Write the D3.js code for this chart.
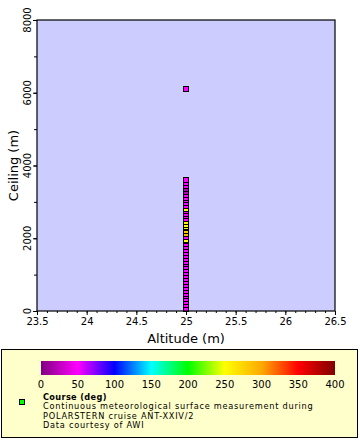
<!DOCTYPE html>
<html><head><meta charset="utf-8">
<script src="https://cdn.jsdelivr.net/npm/d3@7"></script>
<style>body{margin:0;background:#fff}svg{display:block;font-family:"DejaVu Sans",sans-serif}</style>
</head><body>
<script>
// Data
const altitude = [25,25,25,25,25,25,25,25,25,25,25,25,25,25,25,25,25,25,25,25,25,25,25,25,25,25,25,25,25,25,25,25,25,25,25,25,25,25,25,25,25,25,25,25,25,25,25,25];
const ceiling = [6100,3600,3520,3440,3350,3280,3200,3120,3040,2960,2880,2800,2760,2680,2600,2520,2440,2360,2320,2280,2200,2120,2040,1960,1920,1840,1760,1680,1600,1520,1440,1360,1280,1200,1120,1040,960,880,800,720,640,560,480,400,320,240,160,60];
const course = [50,50,50,48,20,22,50,50,50,52,50,250,50,48,50,50,255,250,245,50,280,290,50,250,50,50,48,50,50,52,50,50,48,50,50,52,50,50,50,48,50,50,52,50,50,48,50,50];
const colorStops = [0,50,100,150,200,250,300,350,400];
const colorValues = ["#800080","#ff00ff","#0000ff","#00ffff","#00ff00","#ffff00","#ffaa00","#ff0000","#800000"];
const xTicks = [23.5,24,24.5,25,25.5,26,26.5];
const yTicks = [0,2000,4000,6000,8000];
const legendTicks = [0,50,100,150,200,250,300,350,400];

const W=360,H=440;
const svg=d3.select("body").append("svg").attr("width",W).attr("height",H);
const m={l:37,r:335,t:20,b:311};
const x=d3.scaleLinear().domain([23.5,26.5]).range([m.l,m.r]);
const y=d3.scaleLinear().domain([0,8000]).range([m.b,m.t]);
const color=d3.scaleLinear().domain(colorStops).range(colorValues);

svg.append("rect").attr("x",m.l).attr("y",m.t).attr("width",m.r-m.l).attr("height",m.b-m.t).attr("fill","#ccccff");

// points
const pts = course.map((c,i)=>({a:altitude[i],c:ceiling[i],v:c}));
svg.append("g").selectAll("rect").data(pts.slice().reverse()).join("rect")
  .attr("x",d=>Math.round(x(d.a))-2.5).attr("y",d=>Math.round(y(d.c))-2.5)
  .attr("width",5).attr("height",5).attr("fill",d=>color(d.v)).attr("stroke","#000").attr("stroke-width",1);

// frame
svg.append("rect").attr("x",m.l).attr("y",m.t).attr("width",m.r-m.l).attr("height",m.b-m.t).attr("fill","none").attr("stroke","#000").attr("stroke-width",1.2);

// x axis
const gx=svg.append("g").attr("transform",`translate(0,${m.b})`);
gx.call(d3.axisBottom(x).tickValues(d3.range(235,266,1).map(v=>v/10)).tickSize(2).tickFormat(""));
gx.call(g=>g.select(".domain").remove());
const gx2=svg.append("g").attr("transform",`translate(0,${m.b})`);
gx2.call(d3.axisBottom(x).tickValues(xTicks).tickSize(4).tickPadding(3).tickFormat(d3.format("")));
gx2.select(".domain").remove();
gx2.selectAll("text").attr("font-size",10).attr("font-family","DejaVu Sans");

// y axis
const gy=svg.append("g").attr("transform",`translate(${m.l},0)`);
gy.call(d3.axisLeft(y).tickValues(d3.range(0,8001,1000)).tickSize(3).tickFormat(""));
gy.select(".domain").remove();
const gy2=svg.append("g").attr("transform",`translate(${m.l},0)`);
gy2.call(d3.axisLeft(y).tickValues(yTicks).tickSize(4).tickFormat(""));
gy2.select(".domain").remove();
svg.append("g").selectAll("text").data(yTicks).join("text")
  .attr("transform",d=>`translate(31,${y(d)}) rotate(-90)`)
  .attr("text-anchor","middle").attr("font-size",10).text(d=>d);

svg.append("text").attr("x",186).attr("y",343).attr("text-anchor","middle").attr("font-size",13).text("Altitude (m)");
svg.append("text").attr("transform",`translate(18,${(m.t+m.b)/2}) rotate(-90)`).attr("text-anchor","middle").attr("font-size",13).text("Ceiling (m)");

// legend
svg.append("rect").attr("x",1.5).attr("y",349.5).attr("width",356).attr("height",88).attr("fill","#ffffcc").attr("stroke","#000").attr("stroke-width",1);
const lx=d3.scaleLinear().domain([0,400]).range([41,335]);
const defs=svg.append("defs");
const grad=defs.append("linearGradient").attr("id","cb");
colorStops.forEach((s,i)=>grad.append("stop").attr("offset",(s/400*100)+"%").attr("stop-color",colorValues[i]));
svg.append("rect").attr("x",41).attr("y",361).attr("width",294).attr("height",14).attr("fill","url(#cb)");
svg.append("g").selectAll("text").data(legendTicks).join("text")
  .attr("x",d=>lx(d)).attr("y",388).attr("text-anchor","middle").attr("font-size",10).text(d=>d);
svg.append("rect").attr("x",19.5).attr("y",399.5).attr("width",5).attr("height",5).attr("fill","#00ff00").attr("stroke","#000");
svg.append("text").attr("x",43).attr("y",399.5).attr("font-size",8.2).attr("letter-spacing",0.35).attr("font-weight","bold").text("Course (deg)");
const lines=["Continuous meteorological surface measurement during","POLARSTERN cruise ANT-XXIV/2","Data courtesy of AWI"];
svg.append("g").selectAll("text").data(lines).join("text").attr("x",43).attr("y",(d,i)=>409+i*9.5).attr("font-size",8.2).attr("letter-spacing",0.75).text(d=>d);
</script>
</body></html>
